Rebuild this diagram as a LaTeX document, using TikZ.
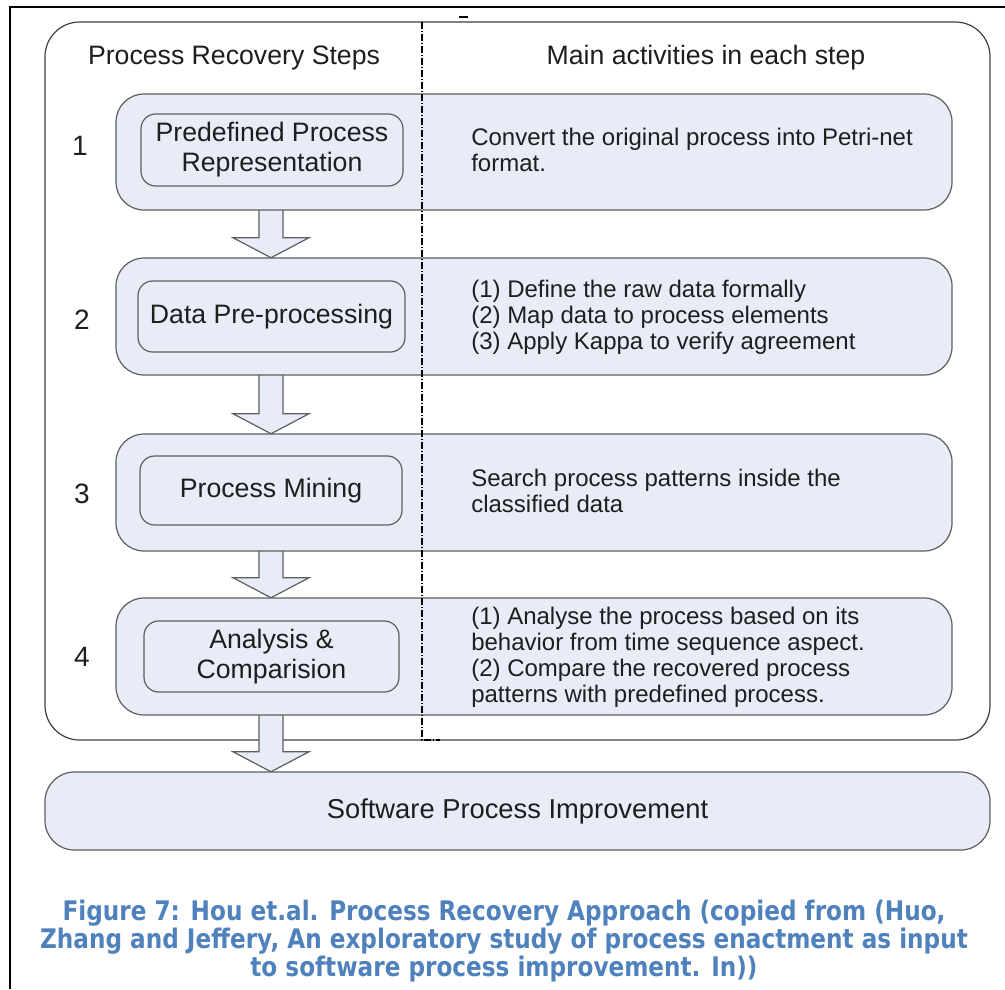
\documentclass[tikz,border=0pt]{standalone}
\usepackage{fontspec}
\setmainfont{Liberation Sans}
\newfontfamily\capfont[FakeStretch=0.86]{DejaVu Sans}
\usetikzlibrary{fit}
\definecolor{boxfill}{HTML}{E7ECF7}
\definecolor{boxline}{HTML}{5E5E5E}
\definecolor{capblue}{HTML}{4F81BD}
\definecolor{ink}{HTML}{1E1E1E}

% draws a hollow block arrow from the bottom of #1 down to the top of #2
\newcommand\stepflow[2]{%
  \path (ax |- #1.south) coordinate (fa) (ax |- #2.north) coordinate (ta);
  \draw[flowarrow] ([shift={(-12,-6)}]fa) -- ([shift={(-12,-20)}]ta)
    -- ([shift={(-38,-20)}]ta) -- (ta) -- ([shift={(38,-20)}]ta)
    -- ([shift={(12,-20)}]ta) -- ([shift={(12,-6)}]fa) -- cycle;}

\begin{document}
\begin{tikzpicture}[x=0.75pt,y=-0.75pt,
  panel/.style={draw=black!75, line width=0.9pt, rounded corners=26pt, inner sep=0pt},
  stepbox/.style={draw=boxline, fill=boxfill, line width=0.9pt, rounded corners=21pt, inner sep=0pt},
  namebox/.style={draw=boxline, fill=boxfill, line width=0.9pt, rounded corners=11pt, inner sep=0pt},
  flowarrow/.style={draw=boxline, fill=boxfill, line width=0.9pt, line join=miter},
  hdr/.style={font=\fontsize{20pt}{24pt}\selectfont, text=ink, inner sep=0pt},
  num/.style={font=\fontsize{21pt}{24pt}\selectfont, text=ink, inner sep=0pt},
  nametext/.style={font=\fontsize{20pt}{22.5pt}\selectfont, text=ink, align=center, inner sep=0pt},
  acttext/.style={font=\fontsize{18pt}{19.5pt}\selectfont, text=ink, align=left, inner sep=0pt, anchor=west},
  divider/.style={black, line width=0.8pt, dash pattern=on 5pt off 1.5pt on 1pt off 1.5pt},
  captext/.style={font=\capfont\bfseries\fontsize{20.2pt}{21.3pt}\selectfont, text=capblue, align=center, inner sep=0pt}
]
\useasboundingbox (0,0) rectangle (1005,989);
\fill[white] (0,0) rectangle (1005,989);

% page frame
\draw[black, line width=1.4pt] (10,989) -- (10,7) -- (1005,7);
\draw[black, line width=1.4pt] (459,17) -- (468,17);

\coordinate (ax) at (271,0);

% outer panel
\node[panel, fit={(45,22) (990,740)}] (panel) {};

% step box outlines, used as anchors for the arrows
\path node[inner sep=0pt, fit={(116,94) (952,210)}] (s1) {}
      node[inner sep=0pt, fit={(116,258) (952,375)}] (s2) {}
      node[inner sep=0pt, fit={(116,434) (952,551)}] (s3) {}
      node[inner sep=0pt, fit={(116,598) (952,715)}] (s4) {}
      node[inner sep=0pt, fit={(45,772) (990,850)}] (spi) {};

% flow arrows
\stepflow{s1}{s2}
\stepflow{s2}{s3}
\stepflow{s3}{s4}
\stepflow{s4}{spi}

% step boxes
\node[stepbox, fit={(116,94) (952,210)}] (b1) {};
\node[stepbox, fit={(116,258) (952,375)}] (b2) {};
\node[stepbox, fit={(116,434) (952,551)}] (b3) {};
\node[stepbox, fit={(116,598) (952,715)}] (b4) {};
\node[stepbox, rounded corners=22pt, fit={(45,772) (990,850)}] (b5) {};

% named steps
\node[namebox, fit={(141,114) (403,186)}] (n1) {};
\node[namebox, fit={(138,281) (405,352)}] (n2) {};
\node[namebox, fit={(140,456) (402,525)}] (n3) {};
\node[namebox, fit={(144,621) (399,692)}] (n4) {};

\node[nametext] (t1) at (n1.center) {Predefined Process\\Representation};
\node[nametext] (t2) at (n2.center) {Data Pre-processing};
\node[nametext] (t3) at (n3.center) {Process Mining};
\node[nametext] (t4) at (n4.center) {Analysis \&\\Comparision};

% step numbers
\node[num] (k1) at (80,146) {1};
\node[num] (k2) at (82,320) {2};
\node[num] (k3) at (82,494) {3};
\node[num] (k4) at (82,657) {4};

% column headers
\node[hdr] (h1) at (234,58) {Process Recovery Steps};
\node[hdr] (h2) at (706,58) {Main activities in each step};

% activities
\node[acttext] (a1) at (471,150) {Convert the original process into Petri-net\\format.};
\node[acttext] (a2) at (471,317) {(1) Define the raw data formally\\(2) Map data to process elements\\(3) Apply Kappa to verify agreement};
\node[acttext] (a3) at (471,491) {Search process patterns inside the\\classified data};
\node[acttext] (a4) at (471,657) {(1) Analyse the process based on its\\behavior from time sequence aspect.\\(2) Compare the recovered process\\patterns with predefined process.};

% column divider
\draw[divider] (422,22) -- (422,740) -- (440,740);

% final outcome
\node[font=\fontsize{20.5pt}{24pt}\selectfont, text=ink, inner sep=0pt] (spit) at (b5.center) {Software Process Improvement};

% caption
\node[captext] (cap) at (504,941) {Figure 7: Hou et.al. Process Recovery Approach (copied from (Huo,\\Zhang and Jeffery, An exploratory study of process enactment as input\\to software process improvement. In))};
\end{tikzpicture}
\end{document}
